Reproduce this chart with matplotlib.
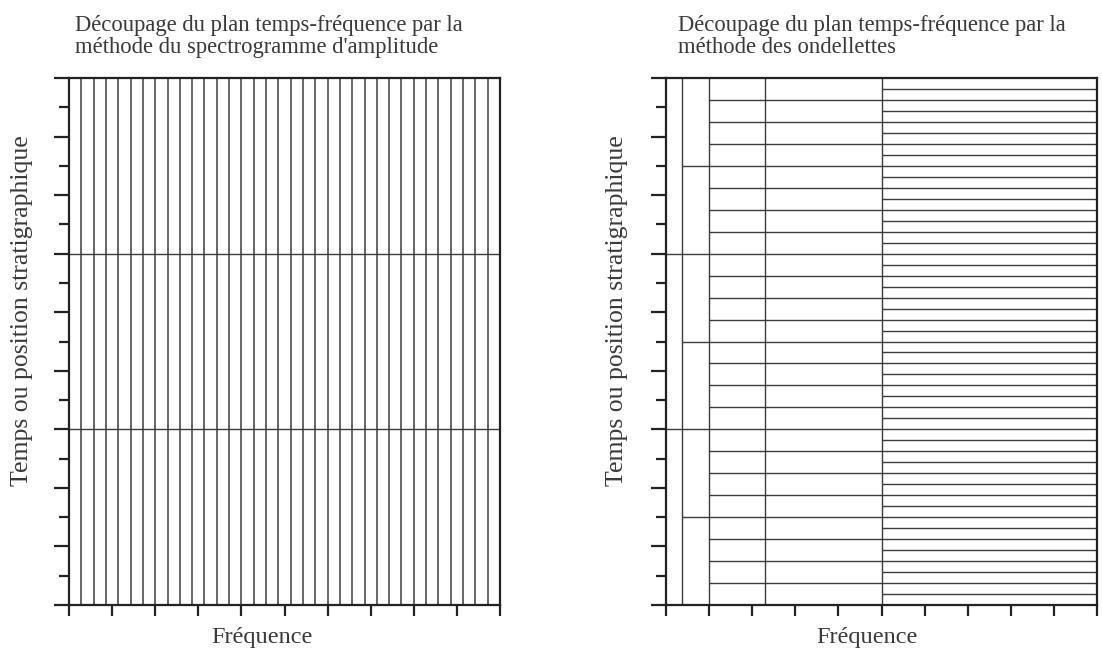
import numpy as np
import matplotlib
matplotlib.use("Agg")
import matplotlib.pyplot as plt

# ---- data ----
freq_ticks = list(range(0, 11))          # frequency axis ticks (0..10)
time_ticks = list(range(0, 19))          # time axis ticks (0..18)
time_major = list(range(0, 19, 2))       # long ticks

# Spectrogram tiling: uniform frequency bands, 3 time windows
spectro_n_bands = 35
spectro_time_cuts = [6, 12]

# Wavelet tiling: frequency column edges and number of time cells per column
wavelet_freq_edges = [0, 0.37, 1.0, 2.3, 5.0, 10]
wavelet_n_rows = [3, 6, 24, 24, 48]

title_left = "Découpage du plan temps-fréquence par la\nméthode du spectrogramme d'amplitude"
title_right = "Découpage du plan temps-fréquence par la\nméthode des ondellettes"
xlabel = "Fréquence"
ylabel = "Temps ou position stratigraphique"

FONT = ["Liberation Serif", "DejaVu Serif"]
TXT = "#3a3a3a"
LINE = "#3c3c3c"

fig = plt.figure(figsize=(11.02, 6.56), dpi=100)
W, H = 1102, 656

def make_ax(x0):
    ax = fig.add_axes([x0 / W, (H - 605) / H, 431 / W, 527 / H])
    ax.set_xlim(freq_ticks[0], freq_ticks[-1])
    ax.set_ylim(time_ticks[0], time_ticks[-1])
    ax.set_xticks(freq_ticks)
    ax.set_yticks(time_major)
    ax.set_yticks([t for t in time_ticks if t not in time_major], minor=True)
    ax.set_xticklabels([])
    ax.set_yticklabels([])
    ax.tick_params(axis="x", direction="out", length=8, width=1.6, color="#222")
    ax.tick_params(axis="y", which="major", direction="out", length=11, width=1.6, color="#222")
    ax.tick_params(axis="y", which="minor", direction="out", length=7, width=1.6, color="#222")
    for s in ax.spines.values():
        s.set_linewidth(1.6)
        s.set_color("#222")
    return ax

# Left: spectrogram
axL = make_ax(69)
edges = np.linspace(freq_ticks[0], freq_ticks[-1], spectro_n_bands + 1)[1:-1]
axL.vlines(edges, time_ticks[0], time_ticks[-1], colors=LINE, linewidth=1.1)
axL.hlines(spectro_time_cuts, freq_ticks[0], freq_ticks[-1], colors=LINE, linewidth=1.0)

# Right: wavelets
axR = make_ax(666)
axR.vlines(wavelet_freq_edges[1:-1], time_ticks[0], time_ticks[-1], colors=LINE, linewidth=1.0)
T = time_ticks[-1]
for x0, x1, n in zip(wavelet_freq_edges[:-1], wavelet_freq_edges[1:], wavelet_n_rows):
    ys = [T * k / n for k in range(1, n)]
    axR.hlines(ys, x0, x1, colors=LINE, linewidth=1.0)

# Titles
for x, t in [(75, title_left), (678, title_right)]:
    l1, l2 = t.split("\n")
    fig.text(x / W, 1 - 31 / H, l1, family=FONT, fontsize=16.3, color=TXT, va="baseline", ha="left")
    fig.text(x / W, 1 - 53 / H, l2, family=FONT, fontsize=16.3, color=TXT, va="baseline", ha="left")

# Axis labels
fig.text(262 / W, 1 - 638 / H, xlabel, family=FONT, fontsize=17.5, color=TXT, ha="center", va="center")
fig.text(867 / W, 1 - 638 / H, xlabel, family=FONT, fontsize=17.5, color=TXT, ha="center", va="center")
fig.text(22 / W, 1 - 311 / H, ylabel, family=FONT, fontsize=18.5, color=TXT, ha="center", va="center", rotation=90)
fig.text(617 / W, 1 - 311 / H, ylabel, family=FONT, fontsize=18.5, color=TXT, ha="center", va="center", rotation=90)

fig.savefig("out.png", dpi=100, facecolor="white")
